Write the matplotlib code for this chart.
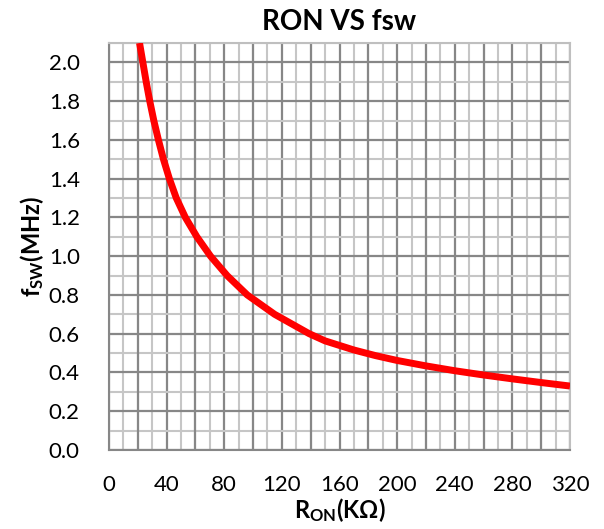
import matplotlib
matplotlib.use("Agg")
import matplotlib.pyplot as plt
from matplotlib.ticker import MultipleLocator

plt.rcParams['font.family'] = ['Lato', 'DejaVu Sans']
plt.rcParams['mathtext.fontset'] = 'custom'
plt.rcParams['mathtext.rm'] = 'Lato'
plt.rcParams['mathtext.bf'] = 'Lato:bold'

# Data
r_on = [21.2, 23.5, 25.8, 28.3, 31.1, 34.3, 37.8, 41.9, 46.7, 53, 61, 70.5,
        82, 96, 115, 139, 150, 170, 185, 200, 220, 240, 260, 280, 300, 320]
f_sw = [2.1, 2.0, 1.9, 1.8, 1.7, 1.6, 1.5, 1.4, 1.3, 1.2, 1.1, 1.0,
        0.9, 0.8, 0.7, 0.6, 0.563, 0.516, 0.487, 0.462, 0.434, 0.409, 0.387,
        0.367, 0.348, 0.33]
x_ticks = [0, 40, 80, 120, 160, 200, 240, 280, 320]
y_ticks = [0.0, 0.2, 0.4, 0.6, 0.8, 1.0, 1.2, 1.4, 1.6, 1.8, 2.0]

fig = plt.figure(figsize=(6.04, 5.29), dpi=100)
ax = fig.add_axes([109/604, 1-450/529, (570-109)/604, (450-43)/529])

ax.plot(r_on, f_sw, color='#FF0000', lw=5, solid_capstyle='butt',
        solid_joinstyle='round', zorder=5)

ax.set_xlim(0, 320)
ax.set_ylim(0, 2.1)

ax.set_xticks(x_ticks, labels=[str(v) for v in x_ticks])
ax.xaxis.set_minor_locator(MultipleLocator(10))
ax.set_yticks(y_ticks, labels=[f"{v:.1f}" for v in y_ticks])
ax.yaxis.set_minor_locator(MultipleLocator(0.1))

ax.grid(which='minor', color='#C6C6C6', lw=1.5, zorder=1)
ax.grid(which='major', color='#878787', lw=1.6, zorder=2)
ax.set_axisbelow(True)
for xv in range(20, 320, 40):
    ax.axvline(xv, color='#878787', lw=1.6, zorder=2)

ax.tick_params(which='both', length=0)
ax.tick_params(axis='x', pad=18, labelsize=16)
ax.tick_params(axis='y', pad=21, labelsize=16)

for s in ax.spines.values():
    s.set_color('#BFBFBF')
    s.set_linewidth(1.5)
ax.spines['left'].set_color('#878787')
ax.spines['bottom'].set_color('#878787')

ax.set_title('RON VS fsw', fontsize=20, fontweight='bold', pad=9)
ax.set_xlabel(r'$\mathbf{R_{ON}(K\Omega)}$', fontsize=17, labelpad=1)
ax.set_ylabel(r'$\mathbf{f_{SW}(MHz)}$', fontsize=17, labelpad=2)

fig.savefig('out.png', dpi=100)
